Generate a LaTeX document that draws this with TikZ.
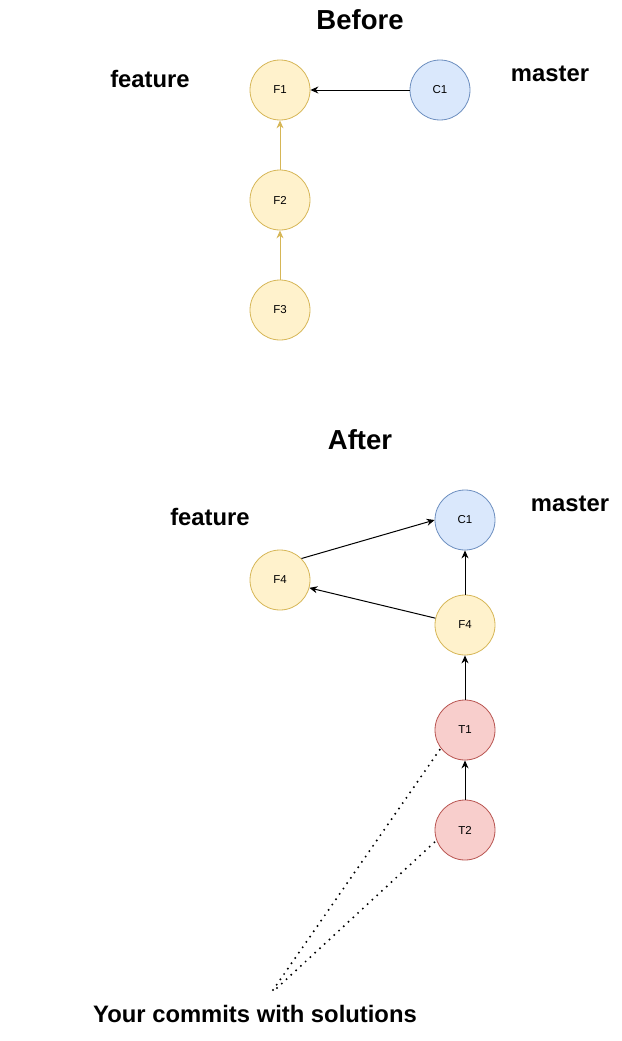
\documentclass[tikz,border=0pt]{standalone}
\usepackage{fontspec}
\setmainfont{Liberation Sans}
\usepackage{xcolor}
\usetikzlibrary{arrows.meta}
\definecolor{jauneFond}{HTML}{FFF2CC}
\definecolor{jauneTrait}{HTML}{D6B656}
\definecolor{bleuFond}{HTML}{DAE8FC}
\definecolor{bleuTrait}{HTML}{6C8EBF}
\definecolor{rougeFond}{HTML}{F8CECC}
\definecolor{rougeTrait}{HTML}{B85450}
\tikzset{
Commit/.style={
 circle,
 minimum size=60pt,
 inner sep=0pt,
 line width=0.8pt,
 font=\fontsize{11.5}{13}\selectfont
 },
JCommit/.style={Commit, draw=jauneTrait, fill=jauneFond},
BCommit/.style={Commit, draw=bleuTrait, fill=bleuFond},
RCommit/.style={Commit, draw=rougeTrait, fill=rougeFond},
Fleche/.style={
 draw=black,
 line width=1pt,
 -{Stealth[length=8pt,width=7pt]}
 },
JFleche/.style={Fleche, draw=jauneTrait, -{Stealth[length=8pt,width=7pt,color=jauneTrait]}},
Pointille/.style={
 draw=black,
 line width=2.2pt,
 line cap=round,
 dash pattern=on 0pt off 6.5pt
 },
Titre/.style={font=\fontsize{27.5}{30}\selectfont\bfseries},
Etiquette/.style={font=\fontsize{23.8}{26}\selectfont\bfseries}
}
\begin{document}
\begin{tikzpicture}[x=1pt,y=-1pt]
\useasboundingbox (0,0) rectangle (621,1041);
% Before
\node[Titre] (avant) at (360,20) {Before};
\node[Etiquette] (featA) at (150,79) {feature};
\node[Etiquette] (masterA) at (550,74) {master};
\node[JCommit] (F1) at (280,90) {F1};
\node[BCommit] (C1a) at (440,90) {C1};
\node[JCommit] (F2) at (280,200) {F2};
\node[JCommit] (F3) at (280,310) {F3};
\draw[Fleche] (C1a) -- (F1);
\draw[JFleche] (F2) -- (F1);
\draw[JFleche] (F3) -- (F2);
% After
\node[Titre] (apres) at (360,440) {After};
\node[Etiquette] (featB) at (210,517) {feature};
\node[Etiquette] (masterB) at (570,504) {master};
\node[BCommit] (C1b) at (465,520) {C1};
\node[JCommit] (F4g) at (280,580) {F4};
\node[JCommit] (F4d) at (465,625) {F4};
\node[RCommit] (T1) at (465,730) {T1};
\node[RCommit] (T2) at (465,830) {T2};
\draw[Fleche] (F4g.45) -- (C1b.west);
\draw[Fleche] (F4d.167) -- (F4g.-15);
\draw[Fleche] (F4d) -- (C1b);
\draw[Fleche] (T1) -- (F4d);
\draw[Fleche] (T2) -- (T1);
% solutions
\node[Etiquette] (solutions) at (255,1014) {Your commits with solutions};
\coordinate (pointeA) at (273,990);
\coordinate (pointeB) at (277,988);
\draw[Pointille] (pointeA) -- (T1.-143);
\draw[Pointille] (pointeB) -- (T2.200);
\end{tikzpicture}
\end{document}
